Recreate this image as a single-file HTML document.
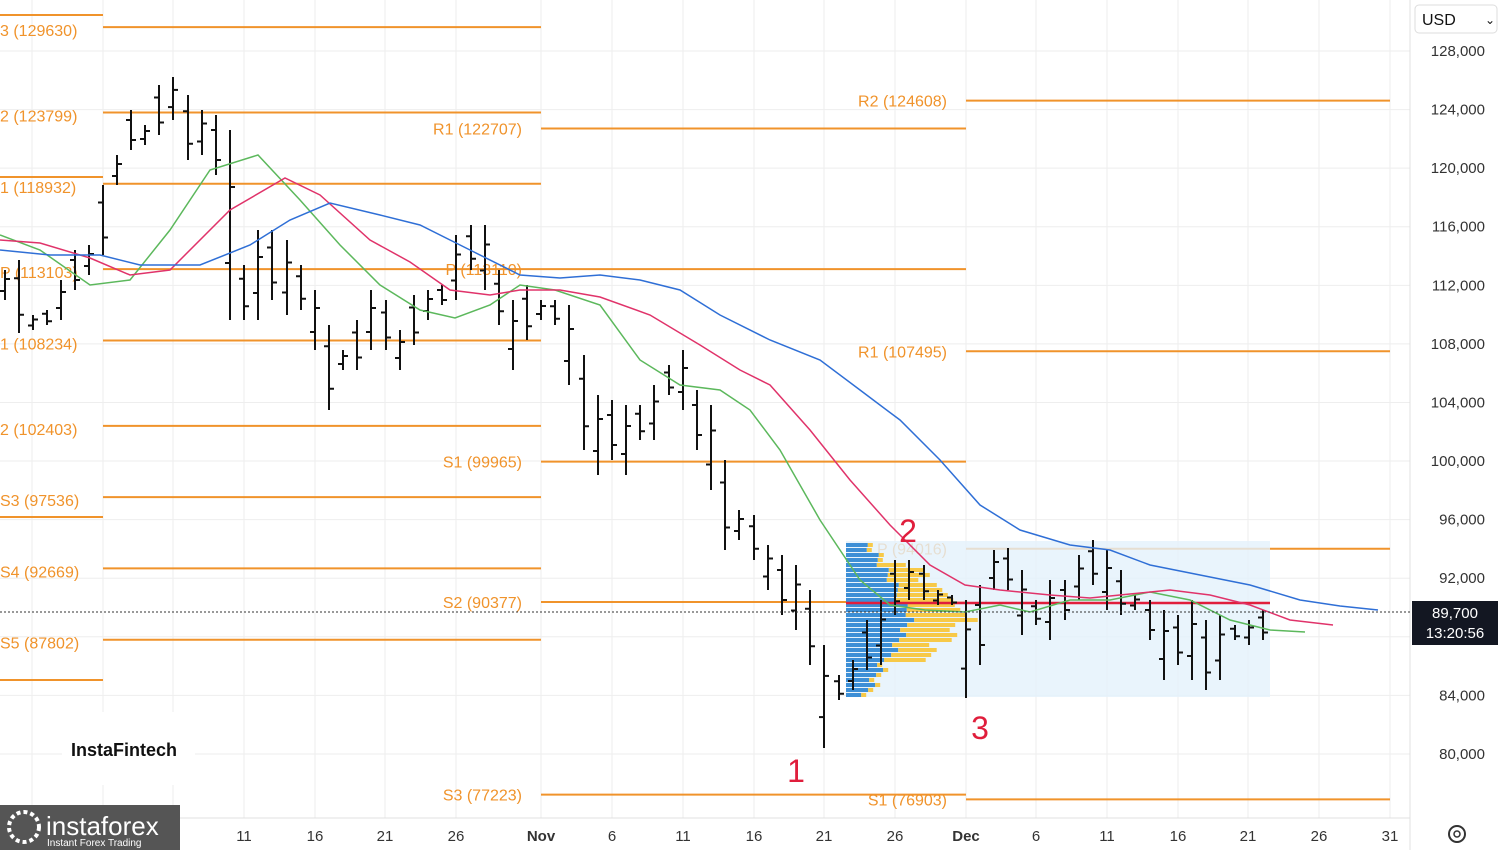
<!DOCTYPE html>
<html><head><meta charset="utf-8"><style>
body{margin:0;width:1500px;height:850px;overflow:hidden;background:#fff;font-family:"Liberation Sans",sans-serif}
svg{position:absolute;left:0;top:0}
</style></head><body>
<svg id="s" width="1500" height="850" xmlns="http://www.w3.org/2000/svg" font-family="Liberation Sans, sans-serif"></svg>
<script>
const s=document.getElementById('s');let h='';
const Y=p=>51+(128000-p)*0.014645;
const xs=[[244,'11'],[315,'16'],[385,'21'],[456,'26'],[541,'Nov'],[612,'6'],[683,'11'],[754,'16'],[824,'21'],[895,'26'],[966,'Dec'],[1036,'6'],[1107,'11'],[1178,'16'],[1248,'21'],[1319,'26'],[1390,'31']];
[32,103,173].concat(xs.map(a=>a[0])).forEach(x=>h+=`<line x1="${x}" y1="0" x2="${x}" y2="818" stroke="#eeeeee"/>`);
for(let p=80000;p<=128000;p+=4000){const y=Y(p);h+=`<line x1="0" y1="${y}" x2="1410" y2="${y}" stroke="#eeeeee"/>`;h+=`<text x="1485" y="${y+5}" font-size="15" fill="#333" text-anchor="end">${p.toLocaleString('en-US')}</text>`;}
h+=`<line x1="1410" y1="0" x2="1410" y2="850" stroke="#e0e0e0"/><line x1="0" y1="818" x2="1410" y2="818" stroke="#e0e0e0"/>`;
xs.forEach(a=>h+=`<text x="${a[0]}" y="841" font-size="15" fill="#333" text-anchor="middle" ${isNaN(a[1])?'font-weight="bold"':''}>${a[1]}</text>`);
const O='#f0932b';
[15,177,517,680].forEach(y=>h+=`<line x1="0" y1="${y}" x2="103" y2="${y}" stroke="${O}" stroke-width="2"/>`);
const piv=[[103,541,[['3 (129630)',129630],['2 (123799)',123799],['1 (118932)',118932],['P (113103)',113103],['1 (108234)',108234],['2 (102403)',102403],['S3 (97536)',97536],['S4 (92669)',92669],['S5 (87802)',87802]],0],
[541,966,[['R1 (122707)',122707],['P (113110)',113110],['S1 (99965)',99965],['S2 (90377)',90377],['S3 (77223)',77223]],1],
[966,1390,[['R2 (124608)',124608],['R1 (107495)',107495],['P (94016)',94016],['S1 (76903)',76903]],1]];
piv.forEach(([a,b,L,r])=>L.forEach(([t,p])=>{const y=Y(p);h+=`<line x1="${a}" y1="${y}" x2="${b}" y2="${y}" stroke="${O}" stroke-width="2"/>`;
h+= r?`<text x="${a-19}" y="${y+6}" font-size="16" fill="${O}" text-anchor="end">${t}</text>`:`<text x="0" y="${y+9}" font-size="16" fill="${O}">${t}</text>`;}));
h+=`<rect x="846" y="541" width="424" height="156" fill="#e3f1fb" opacity="0.8"/>`;
for(let y=543;y<695;y+=5){const c=Math.abs(y-615);let w=Math.max(5,60-c*0.6+((y*7)%13));let wy=Math.max(0,(y>560&&y<660)?(50-c*0.5+((y*11)%17)):5);
h+=`<rect x="846" y="${y}" width="${w}" height="4" fill="#3d8fd6"/><rect x="${846+w}" y="${y}" width="${wy}" height="4" fill="#f7c948"/>`;}
h+=`<line x1="846" y1="603" x2="1270" y2="603" stroke="#e01e3c" stroke-width="2.5"/>`;
const B=[[5,270,300],[19,260,333],[33,315,330],[47,310,325],[61,280,320],[75,250,290],[89,245,275],
[103,185,255],[117,155,185],[131,110,150],[145,125,145],[159,85,135],[173,77,120],[188,95,160],[202,110,155],[216,115,175],[230,130,320],[244,265,320],[258,230,320],[272,230,300],[287,240,315],[301,265,310],[315,290,350],[329,325,410],[343,350,370],[357,320,370],[371,290,350],[386,300,350],[400,330,370],[414,295,345],[428,290,320],[442,285,305],[456,235,300],[471,225,270],[485,225,290],[499,270,325],[513,300,370],[527,285,340],
[541,300,320],[555,300,325],[569,305,385],[584,355,450],[598,395,475],[612,400,460],[626,405,475],[640,405,440],[654,385,440],[669,365,395],[683,350,410],[697,390,450],[711,405,490],[725,460,550],[739,510,540],[754,515,560],[768,545,590],[782,555,615],[796,565,630],[810,590,665],[824,645,748],[839,675,700],[853,660,690],[867,620,670],[881,600,665],[895,560,615],[909,560,600],[924,565,600],[938,590,605],[952,595,605],
[966,600,698],[980,585,665],[994,550,590],[1008,548,590],[1022,570,635],[1036,600,625],[1050,580,640],[1065,580,620],[1079,555,600],[1093,540,585],[1107,550,610],[1121,570,615],[1135,595,610],[1150,600,640],[1164,610,680],[1178,615,665],[1192,600,680],[1206,620,690],[1220,615,680],[1235,625,640],[1249,620,645],[1263,610,640]];
B.forEach(([x,t,b],i)=>{const o=t+(b-t)*(i%2?0.25:0.7),c=t+(b-t)*(i%2?0.75:0.3);
h+=`<line x1="${x}" y1="${t}" x2="${x}" y2="${b}" stroke="#111" stroke-width="2"/><line x1="${x-5}" y1="${o}" x2="${x}" y2="${o}" stroke="#111" stroke-width="2"/><line x1="${x}" y1="${c}" x2="${x+5}" y2="${c}" stroke="#111" stroke-width="2"/>`;});
const pl=(c,p)=>h+=`<polyline fill="none" stroke="${c}" stroke-width="1.5" points="${p}"/>`;
pl('#5cb85c','0,235 40,250 90,285 130,280 170,230 210,170 258,155 300,200 340,245 380,285 420,310 455,318 490,305 520,285 555,290 600,305 640,360 680,385 720,390 750,410 780,450 820,520 860,580 890,605 925,610 965,612 1000,605 1030,612 1070,600 1110,600 1150,592 1190,600 1230,620 1270,630 1305,632');
pl('#e0336a','0,240 40,243 90,258 130,275 170,270 230,210 285,178 320,195 370,240 410,262 450,290 490,295 520,290 560,290 600,297 650,315 700,345 740,370 770,385 810,430 850,480 890,525 930,565 965,585 1000,590 1050,595 1090,598 1130,594 1170,590 1210,595 1250,605 1290,620 1333,625');
pl('#2f6fd6','0,250 50,255 100,255 140,265 200,265 250,245 290,220 330,203 380,215 420,225 470,250 520,275 560,278 600,275 640,280 680,290 720,315 770,340 820,360 860,390 900,420 940,460 980,505 1020,530 1070,545 1110,550 1150,565 1200,575 1250,585 1300,600 1340,606 1378,610');
h+=`<line x1="0" y1="612" x2="1410" y2="612" stroke="#333" stroke-dasharray="2,2"/>`;
h+=`<rect x="1412" y="601" width="86" height="44" fill="#131722"/><text x="1455" y="618" font-size="15" fill="#fff" text-anchor="middle">89,700</text><text x="1455" y="638" font-size="15" fill="#fff" text-anchor="middle">13:20:56</text>`;
h+=`<text x="796" y="782" font-size="32" fill="#e01e3c" text-anchor="middle">1</text><text x="908" y="542" font-size="32" fill="#e01e3c" text-anchor="middle">2</text><text x="980" y="739" font-size="32" fill="#e01e3c" text-anchor="middle">3</text>`;
h+=`<rect x="1415" y="5" width="82" height="28" rx="4" fill="#fff" stroke="#ddd"/><text x="1422" y="25" font-size="16" fill="#111">USD</text><text x="1485" y="24" font-size="12" fill="#111">⌄</text>`;
h+=`<rect x="62" y="712" width="133" height="73" fill="#fff"/><text x="71" y="756" font-size="18" fill="#111" font-weight="bold">InstaFintech</text>`;
h+=`<rect x="0" y="805" width="180" height="45" fill="#555"/><circle cx="24" cy="827" r="15" fill="none" stroke="#fff" stroke-width="4" stroke-dasharray="4,3"/><text x="46" y="835" font-size="26" fill="#fff">instaforex</text><text x="47" y="846" font-size="10" fill="#fff">Instant Forex Trading</text>`;
h+=`<circle cx="1457" cy="834" r="8" fill="none" stroke="#333" stroke-width="2"/><circle cx="1457" cy="834" r="3" fill="none" stroke="#333" stroke-width="1.5"/>`;
s.innerHTML=h;
</script>
</body></html>
